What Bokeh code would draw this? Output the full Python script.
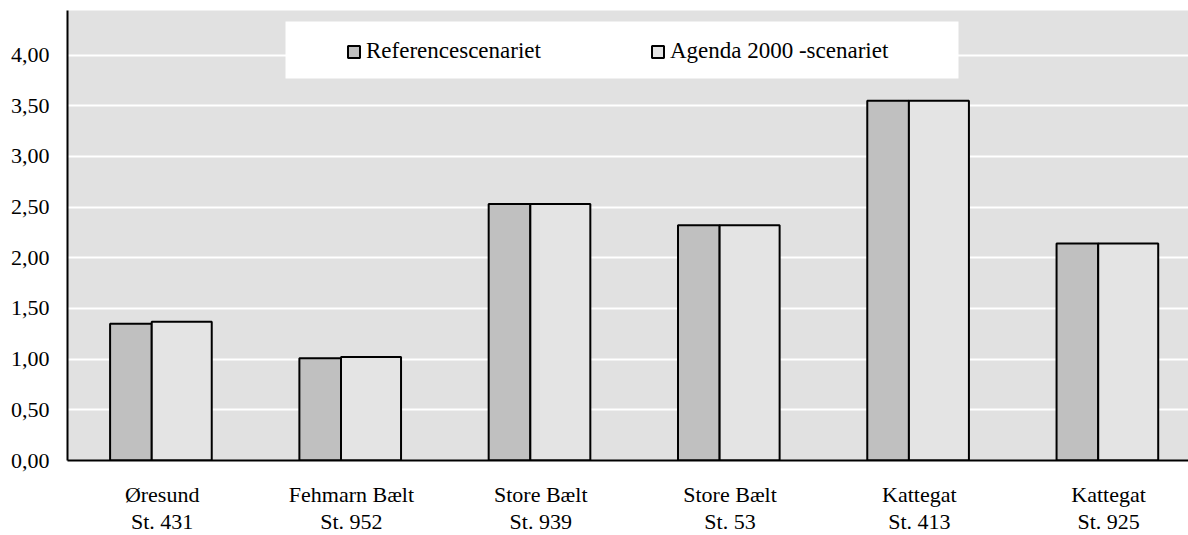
from bokeh.plotting import figure
from bokeh.layouts import column
from bokeh.models import (Range1d, FixedTicker, CustomJSTickFormatter, Legend, LegendItem,
                          BoxAnnotation, ColumnDataSource)
from bokeh.core.properties import value
from bokeh.embed import file_html
from bokeh.resources import INLINE

# ---- data ----
stations = ["Øresund", "Fehmarn Bælt", "Store Bælt", "Store Bælt", "Kattegat", "Kattegat"]
station_ids = ["St. 431", "St. 952", "St. 939", "St. 53", "St. 413", "St. 925"]
reference = [1.35, 1.01, 2.53, 2.32, 3.55, 2.14]
agenda2000 = [1.37, 1.02, 2.53, 2.32, 3.55, 2.14]
series_names = ["Referencescenariet", "Agenda 2000 -scenariet"]
y_ticks = [0.0, 0.5, 1.0, 1.5, 2.0, 2.5, 3.0, 3.5, 4.0]

FONT = "Liberation Serif"
idx = list(range(len(stations)))
xr = Range1d(0, 5.922)

p = figure(width=1188, height=472, output_backend="svg", toolbar_location=None,
           x_range=xr, y_range=Range1d(0, 4.44),
           min_border_left=67, min_border_right=0, min_border_top=10, min_border_bottom=12)
p.background_fill_color = "#e1e1e1"
p.border_fill_color = "white"
p.outline_line_color = None

src = ColumnDataSource(dict(
    x1=[i + 0.335 for i in idx], x2=[i + 0.6035 for i in idx],
    xc=[i + 0.5 for i in idx],
    name=stations, sid=station_ids,
    ref=reference, ag=agenda2000))

r1 = p.vbar(x="x1", width=0.22, top="ref", bottom=0, source=src,
            fill_color="#c0c0c0", line_color="black", line_width=2)
r2 = p.vbar(x="x2", width=0.317, top="ag", bottom=0, source=src,
            fill_color="#e4e4e4", line_color="black", line_width=2)

# grid
p.xgrid.visible = False
p.ygrid.ticker = FixedTicker(ticks=y_ticks)
p.ygrid.grid_line_color = "white"
p.ygrid.grid_line_width = 2
p.ygrid.level = "underlay"

# y axis
p.yaxis.ticker = FixedTicker(ticks=y_ticks)
p.yaxis.formatter = CustomJSTickFormatter(code="return tick.toFixed(2).replace('.', ',');")
p.yaxis.axis_line_color = "black"
p.yaxis.axis_line_width = 2
p.yaxis.major_tick_line_color = None
p.yaxis.minor_tick_line_color = None
p.yaxis.major_tick_out = 0
p.yaxis.major_tick_in = 0
p.yaxis.major_label_standoff = 18
p.yaxis.major_label_text_font = FONT
p.yaxis.major_label_text_font_size = "22px"
p.yaxis.major_label_text_color = "black"

# x axis line only
p.xaxis.ticker = FixedTicker(ticks=[])
p.xaxis.axis_line_color = "black"
p.xaxis.axis_line_width = 2
p.xaxis.major_tick_line_color = None
p.xaxis.minor_tick_line_color = None
p.xaxis.major_tick_out = 0
p.xaxis.major_tick_in = 0
p.xaxis.major_label_standoff = 0
p.xaxis.major_label_text_font_size = "0px"

# legend white box (screen units relative to the frame, y upward)
box = BoxAnnotation(left=218, right=891, top=439, bottom=382,
                    left_units="screen", right_units="screen",
                    top_units="screen", bottom_units="screen",
                    fill_color="white", fill_alpha=1.0, line_color=None, level="annotation")
p.add_layout(box)

legend = Legend(items=[LegendItem(label=series_names[0], renderers=[r1]),
                       LegendItem(label=series_names[1], renderers=[r2])],
                location=(279, 396), orientation="horizontal",
                background_fill_alpha=0, border_line_color=None,
                padding=0, margin=0, spacing=109,
                glyph_width=15, glyph_height=15, label_standoff=5,
                label_text_font=FONT, label_text_font_size="23px",
                label_text_color="black")
p.add_layout(legend)

# category labels strip below the axis (y measured in pixels downward from the axis);
# it overlaps p's bottom border transparently so the "0,00" label stays whole
p2 = figure(width=1188, height=75, output_backend="svg", toolbar_location=None,
            x_range=xr, y_range=Range1d(75, 0),
            x_axis_location=None, y_axis_location=None,
            min_border_left=67, min_border_right=0, min_border_top=0, min_border_bottom=0)
p2.margin = (-12, 0, 0, 0)
p2.grid.visible = False
p2.outline_line_color = None
p2.background_fill_alpha = 0
p2.border_fill_alpha = 0
p2.text(x="xc", y=34, text="name", source=src, text_align="center", text_baseline="middle",
        text_font=value(FONT), text_font_size="22px", text_color="black")
p2.text(x="xc", y=61, text="sid", source=src, text_align="center", text_baseline="middle",
        text_font=value(FONT), text_font_size="22px", text_color="black")

layout = column(p, p2, spacing=0)
open("out.html", "w").write(file_html(layout, INLINE))
